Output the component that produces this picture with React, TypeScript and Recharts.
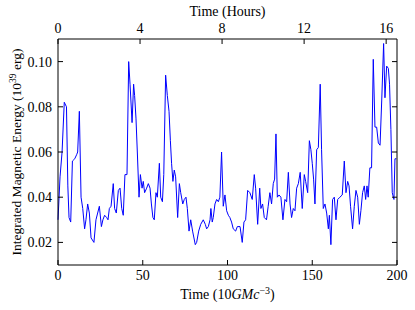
import React from "react";
import { LineChart, Line, XAxis, YAxis } from "recharts";

const times: number[] = [
  0, 1.2, 2.4, 3.7, 5.0, 5.8, 6.5, 7.5, 8.5, 9.9, 11.1, 11.6, 12.6, 13.6, 14.6, 15.7, 16.5, 17.5, 18.5, 19.5,
  21.2, 22.4, 23.4, 24.4, 25.6, 26.5, 27.5, 28.7, 29.5, 30.3, 31.3, 32.6, 33.4, 34.4, 35.6, 36.6, 37.6, 38.5,
  39.5, 40.7, 41.7, 42.5, 43.7, 44.6, 45.2, 46.0, 46.8, 47.8, 48.6, 49.6, 50.3, 51.1, 52.3, 53.3, 54.3, 55.1,
  56.0, 56.8, 57.8, 58.6, 59.8, 60.6, 61.6, 62.4, 63.5, 64.5, 65.5, 66.3, 67.0, 67.8, 68.6, 69.4, 70.6, 71.6,
  72.4, 73.6, 74.5, 75.5, 76.3, 77.3, 78.3, 79.4, 81.0, 81.8, 83.0, 84.2, 85.7, 86.9, 87.7, 88.7, 89.7, 90.2,
  91.0, 91.6, 92.6, 93.6, 94.6, 95.5, 96.5, 97.5, 98.5, 99.5, 100.5, 101.4, 102.4, 103.4, 104.8, 105.8, 107.4,
  108.7, 109.7, 110.7, 111.9, 113.2, 114.6, 115.8, 116.6, 117.8, 119.0, 119.7, 120.7, 121.7, 123.0, 124.0,
  125.0, 126.0, 127.0, 127.8, 128.6, 129.4, 130.4, 131.5, 132.7, 133.9, 134.9, 135.9, 136.9, 137.8, 138.8,
  139.8, 140.8, 141.8, 142.9, 144.1, 145.3, 146.1, 147.3, 148.3, 149.2, 150.0, 150.8, 151.6, 152.6, 153.6,
  154.7, 155.5, 156.5, 157.5, 158.5, 159.5, 160.1, 161.0, 162.0, 163.0, 164.0, 165.0, 166.3, 167.7, 168.9,
  169.9, 170.9, 171.7, 172.6, 173.8, 174.8, 175.8, 176.8, 177.8, 178.7, 179.7, 180.7, 181.5, 182.3, 183.0,
  184.0, 185.0, 186.0, 187.0, 188.0, 189.0, 190.0, 191.0, 192.1, 192.9, 193.9, 194.9, 195.6, 196.4, 197.2,
  198.2, 198.8, 199.6,
];

const energy: number[] = [
  0.030, 0.049, 0.060, 0.082, 0.080, 0.045, 0.031, 0.029, 0.056, 0.057, 0.059, 0.060, 0.078, 0.040, 0.035, 0.026, 0.030, 0.037, 0.033, 0.022,
  0.020, 0.030, 0.033, 0.036, 0.027, 0.030, 0.032, 0.031, 0.030, 0.035, 0.036, 0.046, 0.035, 0.033, 0.043, 0.044, 0.035, 0.032,
  0.050, 0.050, 0.100, 0.090, 0.073, 0.090, 0.085, 0.075, 0.060, 0.040, 0.050, 0.044, 0.047, 0.042, 0.044, 0.046, 0.044, 0.037,
  0.031, 0.030, 0.042, 0.040, 0.055, 0.040, 0.038, 0.050, 0.094, 0.085, 0.078, 0.065, 0.055, 0.047, 0.052, 0.049, 0.031, 0.046,
  0.042, 0.037, 0.039, 0.040, 0.035, 0.025, 0.030, 0.025, 0.019, 0.020, 0.025, 0.028, 0.030, 0.028, 0.026, 0.027, 0.030, 0.035,
  0.029, 0.031, 0.037, 0.039, 0.038, 0.040, 0.060, 0.036, 0.041, 0.034, 0.032, 0.031, 0.029, 0.026, 0.025, 0.027, 0.027,
  0.020, 0.029, 0.030, 0.043, 0.042, 0.039, 0.050, 0.044, 0.028, 0.044, 0.035, 0.037, 0.031, 0.030, 0.036,
  0.042, 0.037, 0.046, 0.048, 0.068, 0.040, 0.041, 0.040, 0.030, 0.039, 0.038, 0.051, 0.037, 0.031, 0.035,
  0.034, 0.044, 0.046, 0.051, 0.035, 0.050, 0.047, 0.042, 0.065, 0.061, 0.055, 0.048, 0.037, 0.061, 0.062,
  0.090, 0.061, 0.035, 0.037, 0.033, 0.026, 0.032, 0.019, 0.039, 0.040, 0.030, 0.039, 0.040, 0.041, 0.056,
  0.042, 0.047, 0.045, 0.036, 0.026, 0.036, 0.043, 0.040, 0.028, 0.034, 0.042, 0.045, 0.039, 0.045, 0.040,
  0.053, 0.053, 0.101, 0.071, 0.071, 0.064, 0.063, 0.083, 0.108, 0.084, 0.098, 0.097, 0.090, 0.070, 0.042,
  0.039, 0.057, 0.057,
];

const bottomTicks: number[] = [0, 50, 100, 150, 200];
const hourTicks: number[] = [0, 4, 8, 12, 16];
const yTicks: number[] = [0.02, 0.04, 0.06, 0.08, 0.1];
const unitsPerHour = 12.1;

const data = times.map((t, i) => ({ t, e: energy[i] }));
const topTickPositions = hourTicks.map((h) => h * unitsPerHour);

const FONT = "'Liberation Serif', 'Times New Roman', serif";
const TS: React.CSSProperties = { fontFamily: FONT, fontSize: 14 };
const TL = 5;

const BottomTick = (p: any) => (
  <g>
    <line x1={p.x} y1={p.y} x2={p.x} y2={p.y - TL} stroke="#000" strokeWidth={1} />
    <text x={p.x} y={p.y + 15} textAnchor="middle" style={TS} fill="#000">
      {p.payload.value}
    </text>
  </g>
);

const TopTick = (p: any) => (
  <g>
    <line x1={p.x} y1={p.y} x2={p.x} y2={p.y + TL} stroke="#000" strokeWidth={1} />
    <text x={p.x} y={p.y - 6} textAnchor="middle" style={TS} fill="#000">
      {Math.round(p.payload.value / unitsPerHour)}
    </text>
  </g>
);

const LeftTick = (p: any) => (
  <g>
    <line x1={p.x} y1={p.y} x2={p.x + TL} y2={p.y} stroke="#000" strokeWidth={1} />
    <text x={p.x - 6} y={p.y + 5} textAnchor="end" style={TS} fill="#000">
      {Number(p.payload.value).toFixed(2)}
    </text>
  </g>
);

const RightTick = (p: any) => (
  <g>
    <line x1={p.x} y1={p.y} x2={p.x - TL} y2={p.y} stroke="#000" strokeWidth={1} />
  </g>
);

const BottomLabel = (p: any) => {
  const vb = p.viewBox;
  const cx = vb.x + vb.width / 2;
  return (
    <text x={cx} y={vb.y + 34} textAnchor="middle" style={TS} fill="#000">
      Time (10<tspan fontStyle="italic">GMc</tspan>
      <tspan dy={-5} style={{ fontSize: 10 }}>−3</tspan>
      <tspan dy={5}>)</tspan>
    </text>
  );
};

const TopLabel = (p: any) => {
  const vb = p.viewBox;
  const cx = vb.x + vb.width / 2;
  return (
    <text x={cx} y={vb.y + vb.height - 23} textAnchor="middle" style={TS} fill="#000">
      Time (Hours)
    </text>
  );
};

const LeftLabel = (p: any) => {
  const vb = p.viewBox;
  const cy = vb.y + vb.height / 2;
  const x = 21;
  return (
    <text
      x={x}
      y={cy}
      transform={`rotate(-90 ${x} ${cy})`}
      textAnchor="middle"
      style={{ fontFamily: FONT, fontSize: 13.5 }}
      fill="#000"
    >
      Integrated Magnetic Energy (10<tspan dy={-5} style={{ fontSize: 9.5 }}>39</tspan>
      <tspan dy={5}> erg)</tspan>
    </text>
  );
};

export default function App() {
  return (
    <div style={{ position: "absolute", left: 0, top: 0, width: 415, height: 310, background: "#fff" }}>
      <LineChart width={415} height={310} data={data} margin={{ top: 0, right: 0, bottom: 0, left: 0 }}>
        <XAxis
          xAxisId="bottom"
          dataKey="t"
          type="number"
          domain={[0, 200]}
          ticks={bottomTicks}
          orientation="bottom"
          height={45}
          tickSize={0}
          tickMargin={0}
          tickLine={false}
          axisLine={{ stroke: "#000", strokeWidth: 1 }}
          tick={<BottomTick />}
          interval={0}
          label={<BottomLabel />}
        />
        <XAxis
          xAxisId="top"
          dataKey="t"
          type="number"
          domain={[0, 200]}
          ticks={topTickPositions}
          orientation="top"
          height={39}
          tickSize={0}
          tickMargin={0}
          tickLine={false}
          axisLine={{ stroke: "#000", strokeWidth: 1 }}
          tick={<TopTick />}
          interval={0}
          label={<TopLabel />}
        />
        <YAxis
          yAxisId="left"
          type="number"
          domain={[0.01, 0.11]}
          ticks={yTicks}
          orientation="left"
          width={58}
          tickSize={0}
          tickMargin={0}
          tickLine={false}
          axisLine={{ stroke: "#000", strokeWidth: 1 }}
          tick={<LeftTick />}
          interval={0}
          label={<LeftLabel />}
        />
        <YAxis
          yAxisId="right"
          type="number"
          domain={[0.01, 0.11]}
          allowDataOverflow
          ticks={yTicks}
          orientation="right"
          width={18}
          tickSize={0}
          tickMargin={0}
          tickLine={false}
          axisLine={{ stroke: "#000", strokeWidth: 1 }}
          tick={<RightTick />}
          interval={0}
        />
        <Line
          xAxisId="bottom"
          yAxisId="left"
          type="linear"
          dataKey="e"
          stroke="#0000ff"
          strokeWidth={1}
          dot={false}
          isAnimationActive={false}
        />
      </LineChart>
    </div>
  );
}
